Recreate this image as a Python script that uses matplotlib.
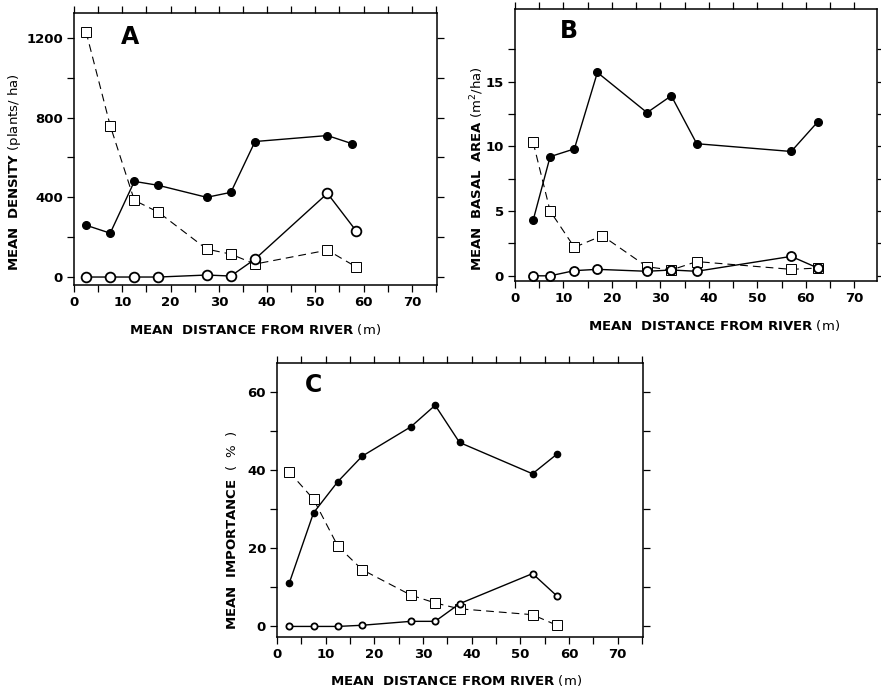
import matplotlib
matplotlib.use("Agg")
import matplotlib.pyplot as plt
from matplotlib.ticker import MultipleLocator, FixedLocator

# ── data ───────────────────────────────────────────────────────────────────
# A: mean density (plants/ha)
dist_a_filled = [2.5, 7.5, 12.5, 17.5, 27.5, 32.5, 37.5, 52.5, 57.5]
dist_a_other  = [2.5, 7.5, 12.5, 17.5, 27.5, 32.5, 37.5, 52.5, 58.5]
dens_filled   = [260, 220, 480, 460, 400, 425, 680, 710, 670]
dens_square   = [1230, 760, 385, 325, 140, 115, 65, 135, 50]
dens_open     = [0, 0, 0, 0, 10, 5, 90, 420, 230]

# B: mean basal area (m2/ha)
dist_b        = [3.75, 7.25, 12.25, 17, 27.25, 32.25, 37.5, 57, 62.5]
dist_b_square = [3.75, 7.25, 12.25, 18, 27.25, 32.25, 37.5, 57, 62.5]
basal_filled  = [4.3, 9.2, 9.8, 15.7, 12.6, 13.9, 10.2, 9.6, 11.9]
basal_square  = [10.3, 5.0, 2.2, 3.1, 0.7, 0.45, 1.1, 0.5, 0.6]
basal_open    = [0, 0, 0.4, 0.5, 0.35, 0.45, 0.35, 1.5, 0.6]

# C: mean importance (%)
dist_c        = [2.5, 7.5, 12.5, 17.5, 27.5, 32.5, 37.5, 52.5, 57.5]
imp_filled    = [11, 29, 37, 43.5, 51, 56.5, 47, 39, 44]
imp_square    = [39.5, 32.5, 20.5, 14.5, 8, 6, 4.5, 3, 0.3]
imp_open      = [0, 0, 0, 0.3, 1.3, 1.3, 5.8, 13.5, 7.8]

XLABEL = r"$\mathbf{MEAN\ \ DISTANCE\ FROM\ RIVER}$ (m)"

plt.rcParams["font.family"] = "DejaVu Sans"
plt.rcParams["mathtext.fontset"] = "dejavusans"

fig = plt.figure(figsize=(8.81, 6.90), dpi=100)
W, H = 881, 690


def add_axes(left, top, right, bottom):
    return fig.add_axes([left / W, 1 - bottom / H,
                         (right - left) / W, (bottom - top) / H])


def style(ax, xlim, ylim, ymaj, ymin, letter, letter_xy):
    ax.set_xlim(*xlim)
    ax.set_ylim(*ylim)
    ax.xaxis.set_major_locator(FixedLocator(range(0, 71, 10)))
    ax.xaxis.set_minor_locator(MultipleLocator(5))
    ax.yaxis.set_major_locator(FixedLocator(ymaj))
    ax.yaxis.set_minor_locator(FixedLocator(ymin))
    ax.tick_params(which="both", direction="out", length=5, width=0.9,
                   top=True, right=True, labeltop=False, labelright=False)
    ax.tick_params(axis="both", labelsize=9.5, pad=3)
    for lab in ax.get_xticklabels() + ax.get_yticklabels():
        lab.set_fontweight("bold")
    for sp in ax.spines.values():
        sp.set_linewidth(1.1)
    ax.text(*letter_xy, letter, transform=ax.transAxes, fontsize=17,
            fontweight="bold", ha="center", va="center",
            family=["Liberation Sans Narrow", "DejaVu Sans"])


def draw(ax, xf, yf, xs, ys, xo, yo, ms_f, ms_s, ms_o):
    ax.plot(xs, ys, color="black", linestyle=(0, (7, 4.5)), linewidth=0.8,
            marker="s", markersize=ms_s, markerfacecolor="white",
            markeredgecolor="black", markeredgewidth=0.7, zorder=3)
    ax.plot(xf, yf, color="black", linewidth=1.0, marker="o",
            markersize=ms_f, markerfacecolor="black",
            markeredgecolor="black", zorder=4)
    ax.plot(xo, yo, color="black", linewidth=1.0, marker="o",
            markersize=ms_o, markerfacecolor="white",
            markeredgecolor="black", markeredgewidth=1.3, zorder=5)


# ── panel A ───────────────────────────────────────────────────────────────
axA = add_axes(74, 13, 437, 285)
draw(axA, dist_a_filled, dens_filled, dist_a_other, dens_square,
     dist_a_other, dens_open, 5.5, 7, 7)
style(axA, (0, 75.2), (-40, 1325), range(0, 1201, 400),
      range(200, 1201, 400), "A", (0.154, 0.91))
axA.text(-0.163, 0.415, r"$\mathbf{MEAN\ \ DENSITY}$ (plants/ ha)",
         transform=axA.transAxes, rotation=90, ha="center", va="center",
         fontsize=9.5)
axA.text(0.50, -0.162, XLABEL, transform=axA.transAxes,
         ha="center", va="center", fontsize=9.5)

# ── panel B ───────────────────────────────────────────────────────────────
axB = add_axes(515, 9, 877, 281)
draw(axB, dist_b, basal_filled, dist_b_square, basal_square,
     dist_b, basal_open, 5.5, 6.5, 6.5)
style(axB, (0, 74.7), (-0.4, 20.6), [0, 5, 10, 15],
      [2.5, 7.5, 12.5, 17.5], "B", (0.15, 0.92))
axB.text(-0.105, 0.415, r"$\mathbf{MEAN\ \ BASAL\ \ AREA}$ (m$^2$/ha)",
         transform=axB.transAxes, rotation=90, ha="center", va="center",
         fontsize=9.5)
axB.text(0.55, -0.162, XLABEL, transform=axB.transAxes,
         ha="center", va="center", fontsize=9.5)

# ── panel C ───────────────────────────────────────────────────────────────
axC = add_axes(277, 363, 643, 637)
draw(axC, dist_c, imp_filled, dist_c, imp_square,
     dist_c, imp_open, 4.5, 6.5, 4.5)
style(axC, (0, 75.2), (-2.7, 67.3), range(0, 61, 20), range(10, 61, 20),
      "C", (0.10, 0.92))
axC.text(-0.123, 0.39, r"$\mathbf{MEAN\ \ IMPORTANCE}$  (  %  )",
         transform=axC.transAxes, rotation=90, ha="center", va="center",
         fontsize=9.5)
axC.text(0.49, -0.16, XLABEL, transform=axC.transAxes,
         ha="center", va="center", fontsize=9.5)

fig.savefig("out.png", dpi=100)
